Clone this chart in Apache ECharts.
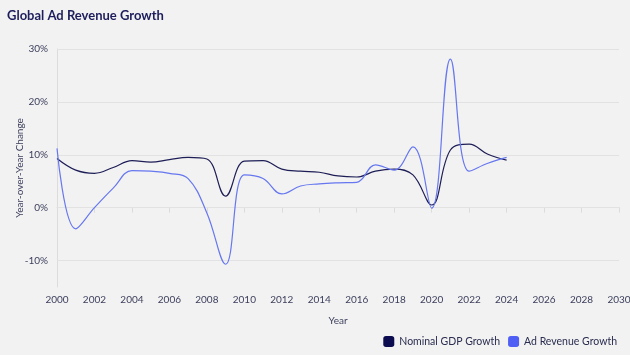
<!DOCTYPE html>
<html>
<head>
<meta charset="utf-8">
<script src="https://cdn.jsdelivr.net/npm/echarts@6/dist/echarts.min.js"></script>
<style>
  html, body { margin: 0; padding: 0; background: #f2f2f2; }
  #chart { width: 630px; height: 355px; }
</style>
</head>
<body>
<div id="chart"></div>
<script>
// Données (en %)
const years = [2000, 2001, 2002, 2003, 2004, 2005, 2006, 2007, 2008, 2009, 2010, 2011, 2012,
  2013, 2014, 2015, 2016, 2017, 2018, 2019, 2020, 2021, 2022, 2023, 2024];
const gdpGrowth = [9.3, 7.1, 6.5, 7.6, 8.9, 8.6, 9.1, 9.5, 9.2, 2.2, 8.8, 8.9, 7.3,
  6.9, 6.7, 6.0, 5.8, 6.9, 7.3, 6.2, 0.5, 10.9, 12.0, 10.1, 9.0];
const adGrowth = [11.2, -4.0, 0.0, 3.7, 7.0, 6.9, 6.5, 5.5, -1.0, -10.7, 6.2, 5.5, 2.6,
  4.1, 4.5, 4.7, 4.8, 8.1, 7.1, 11.5, -0.1, 28.1, 6.9, 8.4, 9.5];
const yTicks = [-10, 0, 10, 20, 30];
const seriesNames = ["Nominal GDP Growth", "Ad Revenue Growth"];

const textColor = "#3c3f5c";
const font = "Lato, 'Noto Sans', sans-serif";

const chart = echarts.init(document.getElementById("chart"));

const option = {
  backgroundColor: "#f2f2f2",
  animation: false,
  title: {
    text: "Global Ad Revenue Growth",
    left: 2,
    top: 4,
    textStyle: { color: "#1d1d5c", fontSize: 13, fontWeight: "bold", fontFamily: font }
  },
  legend: {
    right: 8,
    bottom: 3,
    itemWidth: 11,
    itemHeight: 11,
    itemGap: 8,
    icon: "roundRect",
    textStyle: { color: "#2a2d4f", fontSize: 10.5, fontFamily: font },
    data: [
      { name: seriesNames[0], itemStyle: { color: "#0b0b4f" } },
      { name: seriesNames[1], itemStyle: { color: "#4f5ff5" } }
    ]
  },
  grid: { left: 57, right: 11, top: 49, bottom: 68, outerBoundsMode: "none", containLabel: false },
  xAxis: {
    type: "value",
    min: 2000,
    max: 2030,
    interval: 2,
    name: "Year",
    nameLocation: "middle",
    nameGap: 29,
    nameMoveOverlap: false,
    nameTextStyle: { color: textColor, fontSize: 10, fontFamily: font },
    axisLine: { show: true, lineStyle: { color: "#dcdcdc" } },
    axisTick: { show: true, length: 5, lineStyle: { color: "#dcdcdc" } },
    axisLabel: { color: textColor, fontSize: 10, fontFamily: font, margin: 8, formatter: v => String(v) },
    splitLine: { show: false }
  },
  yAxis: {
    type: "value",
    min: -15,
    max: 30,
    name: "Year-over-Year Change",
    nameLocation: "middle",
    nameGap: 32,
    nameMoveOverlap: false,
    nameTextStyle: { color: textColor, fontSize: 10, fontFamily: font },
    axisLine: { show: true, lineStyle: { color: "#dcdcdc" } },
    axisTick: { show: false, customValues: yTicks },
    axisLabel: {
      color: textColor, fontSize: 10, fontFamily: font, margin: 9,
      customValues: yTicks,
      formatter: v => v + "%"
    },
    splitLine: { show: false }
  },
  series: [
    {
      name: seriesNames[0],
      type: "line",
      data: years.map((y, i) => [y, gdpGrowth[i]]),
      smooth: 0.4,
      showSymbol: false,
      lineStyle: { color: "#1e1e57", width: 1.2 },
      itemStyle: { color: "#0b0b4f" },
      z: 3,
      // lignes de grille horizontales aux graduations
      markLine: {
        silent: true,
        symbol: "none",
        label: { show: false },
        lineStyle: { color: "#e2e2e2", type: "solid", width: 1 },
        data: yTicks.map(v => [{ coord: [2000, v] }, { coord: [2030, v] }]),
        z: 1
      }
    },
    {
      name: seriesNames[1],
      type: "line",
      data: years.map((y, i) => [y, adGrowth[i]]),
      smooth: 0.4,
      showSymbol: false,
      lineStyle: { color: "#6677f0", width: 1.2 },
      itemStyle: { color: "#4f5ff5" },
      z: 3
    }
  ]
};

chart.setOption(option);
</script>
</body>
</html>
